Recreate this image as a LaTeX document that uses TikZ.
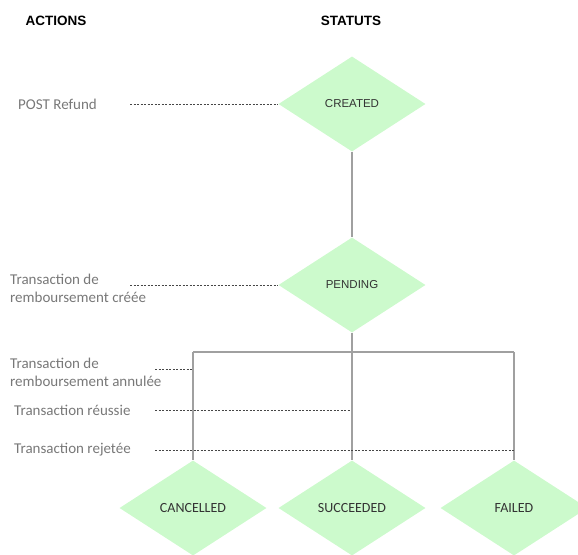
\documentclass[tikz,border=0pt]{standalone}
\usepackage{fontspec}
\setmainfont{Carlito}
\newfontfamily\arialf{Liberation Sans}
\usetikzlibrary{shapes.geometric}
\definecolor{dgreen}{RGB}{204,250,204}
\definecolor{lgray}{RGB}{160,160,160}
\definecolor{tgray}{RGB}{120,120,120}
\definecolor{dashc}{RGB}{70,70,70}
\tikzset{
  x=1pt,y=-1pt,
  state/.style={diamond,fill=dgreen,draw=none,inner sep=0pt,minimum width=147pt,minimum height=95pt,text=black!80},
  topstate/.style={state,font=\arialf\fontsize{11.5}{13}\selectfont},
  botstate/.style={state,font=\fontsize{14}{16}\selectfont},
  action/.style={anchor=west,text=tgray,font=\fontsize{15}{18}\selectfont,align=left,inner sep=0pt},
  header/.style={font=\arialf\bfseries\fontsize{13.5}{15}\selectfont},
  link/.style={draw=lgray,line width=1.8pt},
  guide/.style={draw=dashc,line width=0.7pt,dash pattern=on 2pt off 1.5pt},
}
\begin{document}
\begin{tikzpicture}
\useasboundingbox (0,0) rectangle (578,554);
\begin{scope}
\clip (0,0) rectangle (578,554);
\node[header] (hact) at (56,21) {ACTIONS};
\node[header] (hstat) at (351,21) {STATUTS};

\node[topstate] (created) at (352,104) {CREATED};
\node[topstate] (pending) at (352,285) {PENDING};
\node[botstate] (cancelled) at (193,508) {CANCELLED};
\node[botstate] (succeeded) at (352,508) {SUCCEEDED};
\node[botstate] (failed) at (514,508) {FAILED};

\node[action] (a1) at (18,104) {POST Refund};
\node[action] (a2) at (10,288) {Transaction de\\remboursement créée};
\node[action] (a3) at (10,372) {Transaction de\\remboursement annulée};
\node[action] (a4) at (14,410) {Transaction réussie};
\node[action] (a5) at (14,450) {Transaction rejetée};

\coordinate (bar) at (352,352);
\coordinate (barL) at (193,352);
\coordinate (barR) at (514,352);

\draw[link] (created.south) -- (pending.north);
\draw[link] (pending.south) -- (bar) -- (succeeded.north);
\draw[link] (barL) -- (barR);
\draw[link] (barL) -- (cancelled.north);
\draw[link] (barR) -- (failed.north);

\coordinate (d1s) at (130,104);
\coordinate (d2s) at (130,285);
\coordinate (d3s) at (155,369);
\coordinate (d3e) at (193,369);
\coordinate (d4s) at (155,410);
\coordinate (d4e) at (350,410);
\coordinate (d5s) at (155,450);
\coordinate (d5e) at (514,450);
\draw[guide] (d1s) -- (created.west);
\draw[guide] (d2s) -- (pending.west);
\draw[guide] (d3s) -- (d3e);
\draw[guide] (d4s) -- (d4e);
\draw[guide] (d5s) -- (d5e);
\end{scope}
\end{tikzpicture}
\end{document}
